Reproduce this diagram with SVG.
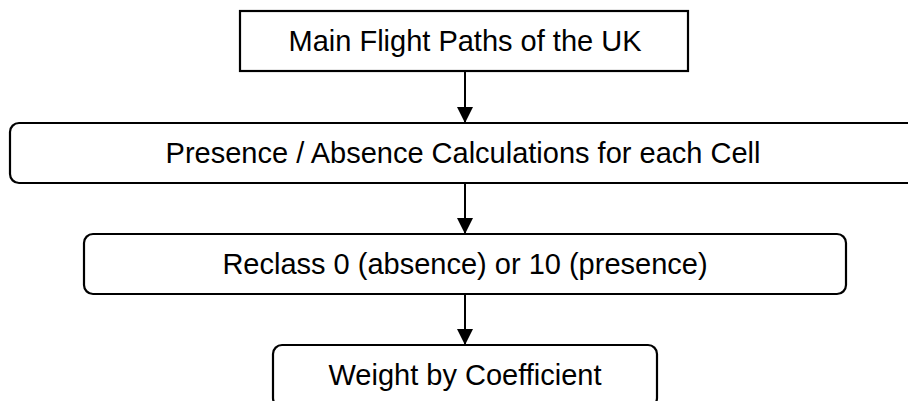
<svg xmlns="http://www.w3.org/2000/svg" width="908" height="401" viewBox="0 0 908 401">
<style>
.box{fill:#fff;stroke:#000;stroke-width:2.2}
.t{font-family:"Liberation Sans",Arial,sans-serif;font-size:29px;fill:#000;text-anchor:middle}
.c{stroke:#000;stroke-width:2;fill:none}
</style>
<defs>
<marker id="ah" markerWidth="16" markerHeight="16" refX="16" refY="8" orient="auto" markerUnits="userSpaceOnUse">
<path d="M0,0 L16,8 L0,16 Z" fill="#000"/>
</marker>
</defs>
<rect width="908" height="401" fill="#fff"/>
<g id="connectors">
<line class="c" x1="465" y1="71" x2="465" y2="123" marker-end="url(#ah)"/>
<line class="c" x1="465" y1="183" x2="465" y2="234" marker-end="url(#ah)"/>
<line class="c" x1="465" y1="294" x2="465" y2="345" marker-end="url(#ah)"/>
</g>
<g id="n1">
<rect class="box" x="240" y="11" width="448" height="60" stroke-width="2.6"/>
<text class="t" x="465" y="51">Main Flight Paths of the UK</text>
</g>
<g id="n2">
<rect class="box" x="10" y="123" width="920" height="60" rx="9"/>
<text class="t" x="463" y="163">Presence / Absence Calculations for each Cell</text>
</g>
<g id="n3">
<rect class="box" x="84" y="234" width="762" height="60" rx="9"/>
<text class="t" x="465" y="274">Reclass 0 (absence) or 10 (presence)</text>
</g>
<g id="n4">
<rect class="box" x="273" y="345" width="384" height="62" rx="9"/>
<text class="t" x="465" y="385">Weight by Coefficient</text>
</g>
</svg>
